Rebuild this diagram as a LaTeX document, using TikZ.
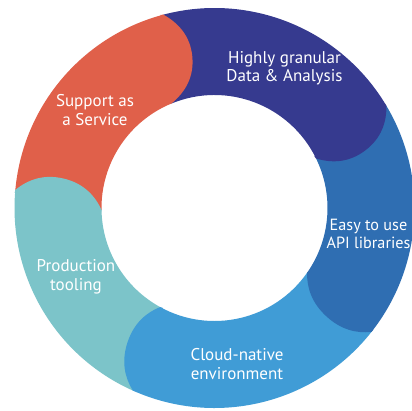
\documentclass[tikz,border=0pt]{standalone}
\usepackage{fontspec}
\newfontfamily\labfont{PT Sans}
\usetikzlibrary{calc}
\definecolor{cOrange}{RGB}{224,96,74}
\definecolor{cDark}{RGB}{54,58,143}
\definecolor{cMid}{RGB}{47,110,178}
\definecolor{cLight}{RGB}{64,156,214}
\definecolor{cTeal}{RGB}{124,196,201}
\newcommand\ringR{200}
\newcommand\ringr{113}
% sector: colour, outer start, outer end, inner start, inner end
\newcommand\ringsector[5]{%
  \fill[#1] (#2:\ringR pt) arc[start angle=#2, end angle=#3, radius=\ringR pt]
    -- (#4:\ringr pt) arc[start angle=#4, end angle=#5, radius=\ringr pt] -- cycle;}
% cap: colour, outer angle, inner angle, bulge
\newcommand\ringcap[4]{%
  \pgfmathsetmacro\cox{\ringR*cos(#2)}%
  \pgfmathsetmacro\coy{\ringR*sin(#2)}%
  \pgfmathsetmacro\cix{\ringr*cos(#3)}%
  \pgfmathsetmacro\ciy{\ringr*sin(#3)}%
  \pgfmathsetmacro\cmx{(\cox+\cix)/2}%
  \pgfmathsetmacro\cmy{(\coy+\ciy)/2}%
  \pgfmathsetmacro\cphi{atan2(\ciy-\coy,\cix-\cox)}%
  \pgfmathsetmacro\ch{veclen(\cix-\cox,\ciy-\coy)/2}%
  \pgfmathsetmacro\cha{0.77*\ch}%
  \pgfmathsetmacro\chb{0.45*\ch}%
  \pgfmathsetmacro\cea{0.6*#4}%
  \begin{scope}[shift={(\cmx pt,\cmy pt)},rotate=\cphi]
    \fill[#1] (-\ch pt,0pt) .. controls (-\cha pt,\cea pt) and (-\chb pt,#4pt) .. (0pt,#4pt)
      .. controls (\chb pt,#4pt) and (\cha pt,\cea pt) .. (\ch pt,0pt)
      -- (\ch pt,-3pt) -- (-\ch pt,-3pt) -- cycle;
  \end{scope}}
\tikzset{lab/.style={text=white, align=center, inner sep=0pt,
  font=\labfont\fontsize{17}{18.5}\selectfont}}
\begin{document}
\begin{tikzpicture}[x=1pt,y=1pt]
\useasboundingbox (-214.5,-202) rectangle (197.5,208);
\fill[white] (-214.5,-202) rectangle (197.5,208);
\clip (-214.5,-202) rectangle (197.5,208);
% sectors
\ringsector{cOrange}{174.8}{104.8}{112.4}{181.0}
\ringsector{cDark}{104.8}{30.7}{26.0}{112.4}
\ringsector{cMid}{30.7}{-38.3}{-35.0}{26.0}
\ringsector{cLight}{-38.3}{-114.1}{-118.8}{-35.0}
\ringsector{cTeal}{245.9}{174.8}{181.0}{241.2}
% caps
\ringcap{cOrange}{104.8}{112.4}{25}
\ringcap{cDark}{30.7}{26.0}{23}
\ringcap{cMid}{-38.3}{-35.0}{19}
\ringcap{cLight}{-114.1}{-118.8}{20}
\ringcap{cTeal}{174.8}{181.0}{22}
% labels
\node[lab] (data) at (70,140) {Highly granular\\Data \& Analysis};
\node[lab] (support) at (-119.5,98) {Support as\\a Service};
\node[lab, font=\labfont\fontsize{16.2}{18.5}\selectfont] (api) at (154,-26) {Easy to use\\API libraries};
\node[lab] (prod) at (-138.5,-69) {Production\\tooling};
\node[lab] (cloud) at (22.5,-156) {Cloud-native\\environment};
\end{tikzpicture}
\end{document}
